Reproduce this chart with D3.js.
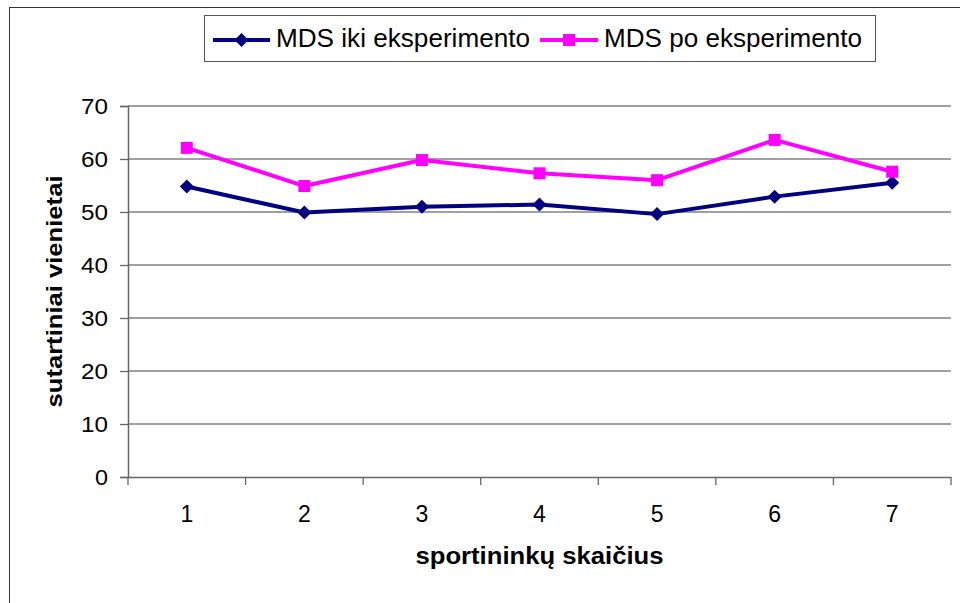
<!DOCTYPE html>
<html><head><meta charset="utf-8">
<script src="https://cdn.jsdelivr.net/npm/d3@7"></script>
<style>html,body{margin:0;padding:0;background:#fff;} svg{display:block;}</style>
</head><body>
<script>
const categories = ["1","2","3","4","5","6","7"];
const seriesNames = ["MDS iki eksperimento","MDS po eksperimento"];
const ikiValues = [54.8, 49.9, 51.0, 51.4, 49.6, 52.9, 55.5];
const poValues  = [62.1, 54.9, 59.8, 57.3, 56.0, 63.6, 57.6];
const yTicks = [0,10,20,30,40,50,60,70];
const xTitle = "sportininkų skaičius";
const yTitle = "sutartiniai vienietai";

const W = 960, H = 603;
const m = {left:128, right:951, top:106, bottom:477};
const font = "Liberation Sans, Arial, sans-serif";

const svg = d3.select("body").append("svg").attr("width",W).attr("height",H);
svg.append("rect").attr("x",0).attr("y",0).attr("width",W).attr("height",H).attr("fill","#fff");
svg.append("rect").attr("x",9.5).attr("y",7.5).attr("width",W).attr("height",H)
  .attr("fill","none").attr("stroke","#333").attr("stroke-width",1);

const x = d3.scaleBand().domain(categories).range([m.left, m.right]);
const y = d3.scaleLinear().domain([0,70]).range([m.bottom, m.top]);

// gridlines
svg.append("g").selectAll("line").data(yTicks.filter(d=>d>0)).join("line")
  .attr("x1",m.left).attr("x2",m.right)
  .attr("y1",d=>y(d)).attr("y2",d=>y(d))
  .attr("stroke","#808080").attr("stroke-width",1.5);

// y axis
const yAxis = svg.append("g").attr("transform",`translate(${m.left},0)`)
  .call(d3.axisLeft(y).tickValues(yTicks).tickSize(8).tickPadding(12).tickFormat(d3.format("d")));
yAxis.select(".domain").attr("stroke","#666").attr("stroke-width",1.5);
yAxis.selectAll(".tick line").attr("stroke","#666").attr("stroke-width",1.3);
yAxis.selectAll(".tick text").attr("font-family",font).attr("font-size",22).attr("fill","#000")
  .attr("textLength",27).attr("lengthAdjust","spacingAndGlyphs");
yAxis.selectAll(".tick text").filter(d=>d===0).attr("textLength",13);

// x axis
const xAxis = svg.append("g").attr("transform",`translate(0,${m.bottom})`)
  .call(d3.axisBottom(x).tickSize(0).tickPadding(29));
xAxis.select(".domain").attr("stroke","#666").attr("stroke-width",1.5);
xAxis.selectAll(".tick text").attr("font-family",font).attr("font-size",23).attr("fill","#000");
// band boundary ticks
const bounds = categories.map(c=>x(c)).concat([m.right]);
svg.append("g").selectAll("line").data(bounds).join("line")
  .attr("x1",d=>d).attr("x2",d=>d).attr("y1",m.bottom).attr("y2",m.bottom+8)
  .attr("stroke","#666").attr("stroke-width",1.3);

// titles
svg.append("text").attr("x",(m.left+m.right)/2).attr("y",564)
  .attr("text-anchor","middle").attr("font-family",font).attr("font-weight","bold")
  .attr("font-size",23).attr("textLength",248).attr("lengthAdjust","spacingAndGlyphs").text(xTitle);
svg.append("text").attr("transform",`translate(62,${(m.top+m.bottom)/2}) rotate(-90)`)
  .attr("text-anchor","middle").attr("font-family",font).attr("font-weight","bold")
  .attr("font-size",22).attr("textLength",232).attr("lengthAdjust","spacingAndGlyphs").text(yTitle);

const cx = d => x(d) + x.bandwidth()/2;
const line = d3.line().x((d,i)=>cx(categories[i])).y(d=>y(d));
const series = [
  {name:seriesNames[0], values:ikiValues, color:"#000080", marker:"diamond"},
  {name:seriesNames[1], values:poValues,  color:"#FF00FF", marker:"square"}
];
function drawMarker(g, type, color){
  if(type==="diamond"){
    g.append("path").attr("d","M0,-7L7,0L0,7L-7,0Z").attr("fill",color);
  } else {
    g.append("rect").attr("x",-6).attr("y",-6).attr("width",12).attr("height",12).attr("fill",color);
  }
}
series.forEach(s=>{
  svg.append("path").datum(s.values).attr("d",line).attr("fill","none")
    .attr("stroke",s.color).attr("stroke-width",4).attr("stroke-linejoin","round");
  s.values.forEach((v,i)=>{
    const g = svg.append("g").attr("transform",`translate(${cx(categories[i])},${y(v)})`);
    drawMarker(g, s.marker, s.color);
  });
});

// legend
svg.append("rect").attr("x",204.5).attr("y",15.5).attr("width",671).attr("height",46)
  .attr("fill","#fff").attr("stroke","#555").attr("stroke-width",1);
const leg = [
  {x1:213, x2:270, tx:276, tl:254},
  {x1:540, x2:598, tx:604, tl:258}
];
series.forEach((s,i)=>{
  const L = leg[i];
  svg.append("line").attr("x1",L.x1).attr("x2",L.x2).attr("y1",40).attr("y2",40)
    .attr("stroke",s.color).attr("stroke-width",4);
  const g = svg.append("g").attr("transform",`translate(${(L.x1+L.x2)/2},40)`);
  drawMarker(g, s.marker, s.color);
  svg.append("text").attr("x",L.tx).attr("y",47).attr("font-family",font).attr("font-size",25)
    .attr("textLength",L.tl).attr("lengthAdjust","spacingAndGlyphs").text(s.name);
});
</script>
</body></html>
